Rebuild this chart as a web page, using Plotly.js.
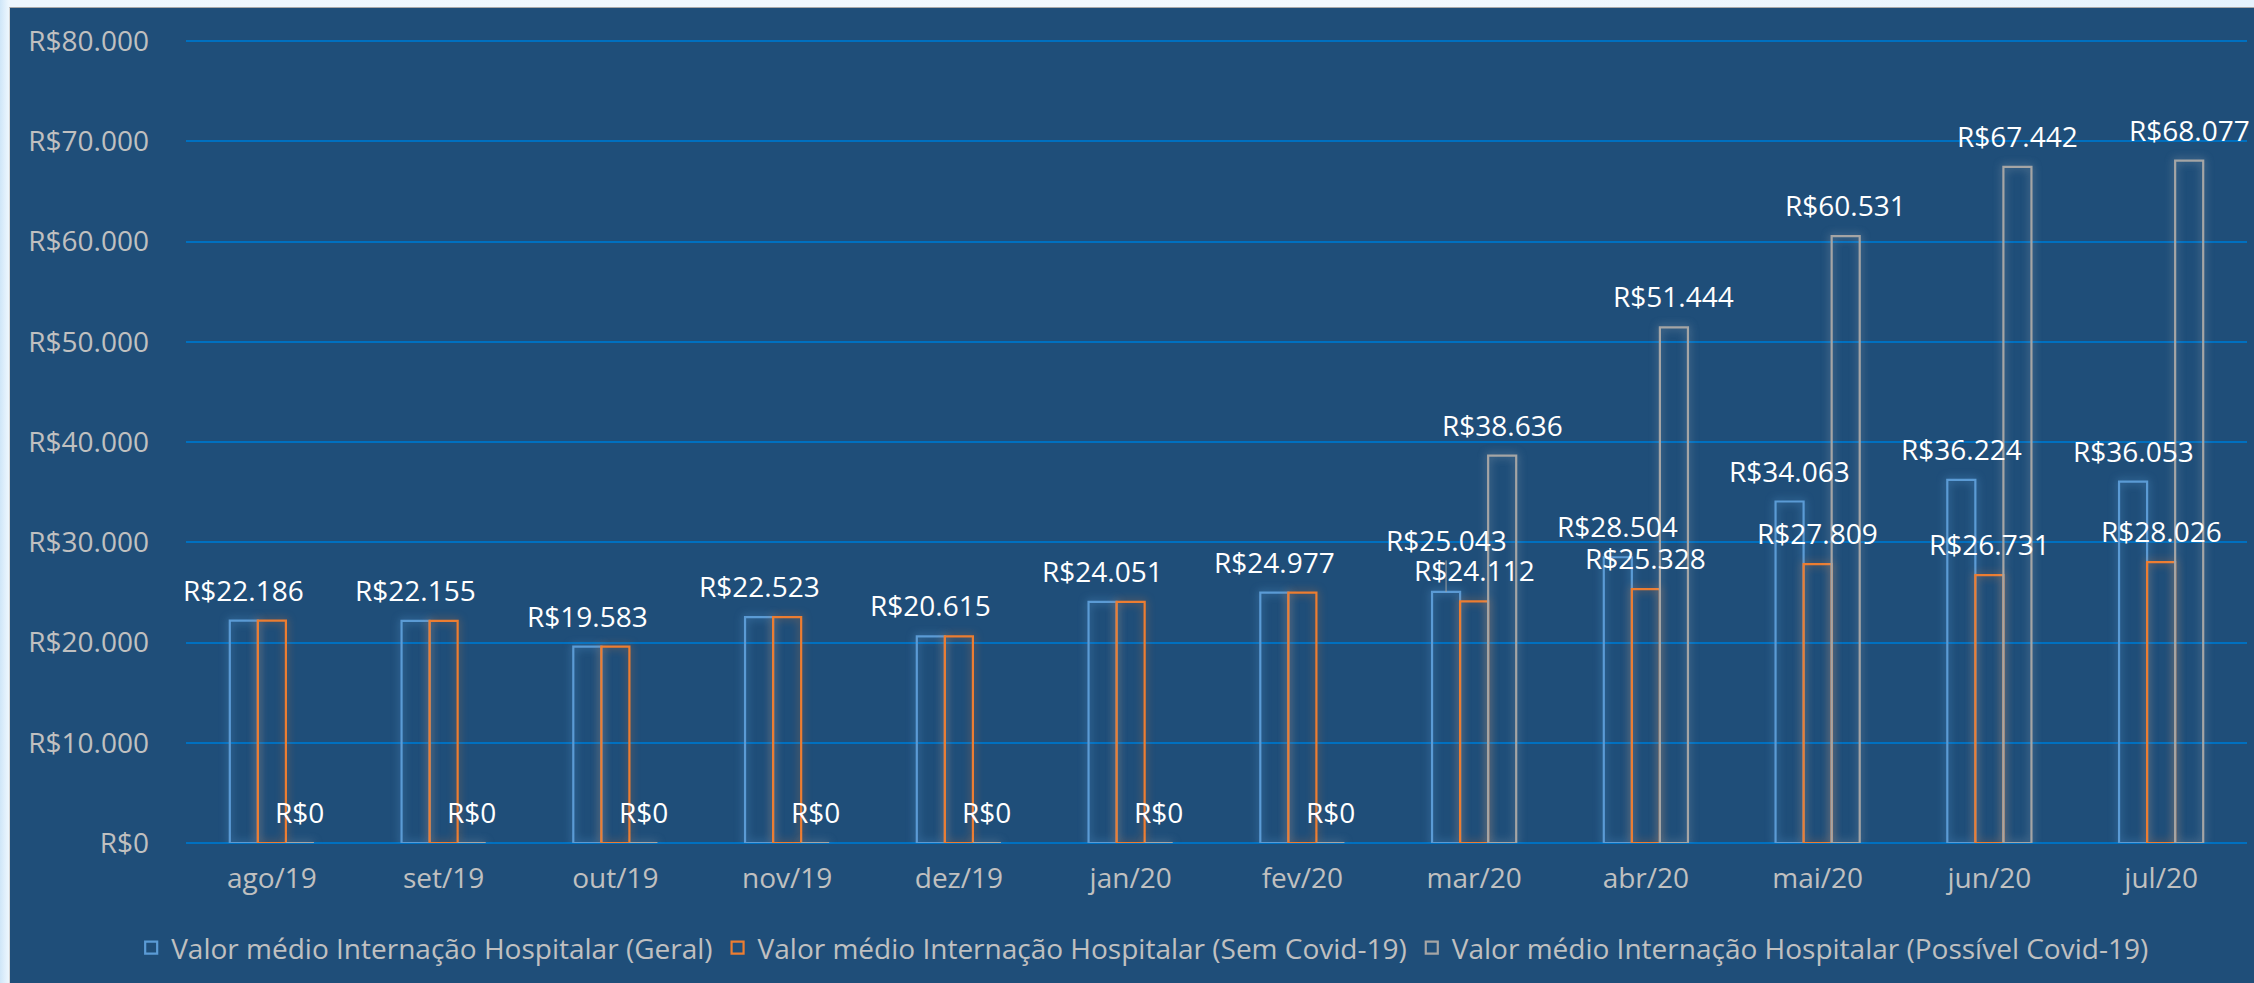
<!DOCTYPE html>
<html>
<head>
<meta charset="utf-8">
<script src="https://cdn.plot.ly/plotly-3.0.1.min.js"></script>
<style>
  html, body { margin: 0; padding: 0; width: 2254px; height: 983px; overflow: hidden;
    background: linear-gradient(to right, #cfe6f8 0px, #eef7fe 9px, #f3f9fe 60%, #e6f3fd 100%); }
  #frame { position: absolute; left: 9px; top: 7px; width: 2245px; height: 976px;
    border-top: 1px solid #a9a9a9; border-left: 1px solid #d4d4d4; background: #1f4e79; }
  #chart { position: absolute; left: 0; top: 0; width: 2244px; height: 975px; }
</style>
</head>
<body>
<div id="frame"><div id="chart"></div></div>
<script>
// ---- data ----
const months = ['ago/19','set/19','out/19','nov/19','dez/19','jan/20','fev/20','mar/20','abr/20','mai/20','jun/20','jul/20'];
const geral = [22186, 22155, 19583, 22523, 20615, 24051, 24977, 25043, 28504, 34063, 36224, 36053];
const semCovid = [22186, 22155, 19583, 22523, 20615, 24051, 24977, 24112, 25328, 27809, 26731, 28026];
const possivelCovid = [0, 0, 0, 0, 0, 0, 0, 38636, 51444, 60531, 67442, 68077];
const seriesNames = [
  'Valor médio Internação Hospitalar (Geral)',
  'Valor médio Internação Hospitalar (Sem Covid-19)',
  'Valor médio Internação Hospitalar (Possível Covid-19)'
];
const yTickMax = 80000;
const yTickStep = 10000;

// ---- styling ----
const colors = ['#5b9bd5', '#ed7d31', '#a5a5a5'];
const glows = ['rgba(91,155,213,0.8)', 'rgba(237,125,49,0.6)', 'rgba(200,200,200,0.55)'];
const labelGray = '#c0c0c0';
const bargap = 0.51;
const liftedIndex = months.indexOf('mar/20'); // Geral label moved up with a leader line

function brl(v) { return 'R$' + String(v).replace(/\B(?=(\d{3})+(?!\d))/g, '.'); }

const valueSets = [geral, semCovid, possivelCovid];
// which labels the reference shows
const showLabel = [
  geral.map(() => true),
  semCovid.map((v, i) => possivelCovid[i] > 0),
  possivelCovid.map(() => true)
];

const traces = valueSets.map((vals, k) => ({
  type: 'bar',
  name: seriesNames[k],
  x: months,
  y: vals,
  marker: { color: 'rgba(0,0,0,0)', line: { color: colors[k], width: 2.2 } },
  hoverinfo: 'none'
}));

const groupW = 1 - bargap;
const labelFont = { family: 'Open Sans', size: 28, color: '#ffffff' };
const annotations = [];
valueSets.forEach((vals, k) => {
  vals.forEach((v, i) => {
    if (!showLabel[k][i]) return;
    const xPos = i + (k - 1) * groupW / 3;
    if (k === 0 && i === liftedIndex) {
      annotations.push({
        x: xPos, y: v, xref: 'x', yref: 'y', text: brl(v),
        showarrow: true, arrowhead: 0, arrowwidth: 1, arrowcolor: '#a0a0a0',
        ax: 0, ay: -52, font: labelFont
      });
    } else {
      annotations.push({
        x: xPos, y: v, xref: 'x', yref: 'y', text: brl(v),
        showarrow: false, yanchor: 'bottom', yshift: 10, font: labelFont
      });
    }
  });
});

const layout = {
  width: 2244, height: 975,
  paper_bgcolor: '#1f4e79', plot_bgcolor: '#1f4e79',
  margin: { l: 176, r: 7, t: 28, b: 140 },
  separators: ',.',
  barmode: 'group', bargap: bargap, bargroupgap: 0,
  font: { family: 'Open Sans', size: 28, color: labelGray },
  xaxis: {
    type: 'category', range: [-0.5, months.length - 0.5], autorange: false,
    showgrid: false, showline: false, zeroline: false, ticks: '',
    tickfont: { family: 'Open Sans', size: 28, color: labelGray },
    ticklabelstandoff: 16
  },
  yaxis: {
    range: [0, yTickMax + 500], autorange: false, tick0: 0, dtick: yTickStep,
    tickprefix: 'R$', tickformat: ',d',
    showgrid: true, gridcolor: '#0070c0', gridwidth: 2,
    zeroline: true, zerolinecolor: '#0070c0', zerolinewidth: 2,
    showline: false, ticks: '',
    tickfont: { family: 'Open Sans', size: 28, color: labelGray },
    ticklabelstandoff: 36
  },
  showlegend: true,
  legend: {
    orientation: 'h', xref: 'container', yref: 'container',
    x: 0.054, xanchor: 'left', y: 0.036, yanchor: 'middle',
    font: { family: 'Open Sans', size: 28, color: labelGray },
    bgcolor: 'rgba(0,0,0,0)', itemclick: false, itemdoubleclick: false
  },
  annotations: annotations
};

Plotly.newPlot('chart', traces, layout, { displayModeBar: false, staticPlot: true }).then(() => {
  document.querySelectorAll('.barlayer .trace').forEach((g, i) => {
    g.querySelectorAll('path').forEach(p => { p.style.filter = 'drop-shadow(0 0 4px ' + glows[i] + ')'; });
  });
});
</script>
</body>
</html>
